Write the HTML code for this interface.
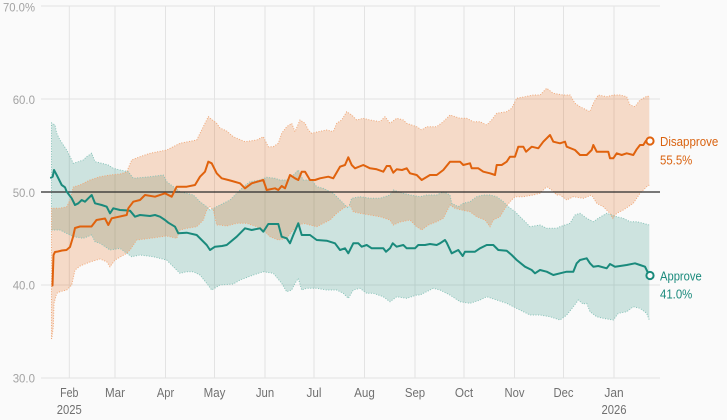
<!DOCTYPE html>
<html>
<head>
<meta charset="utf-8">
<style>
html,body{margin:0;padding:0;background:#fafafa;}
svg{display:block;}
text{font-family:"Liberation Sans",Arial,sans-serif;}
</style>
</head>
<body>
<svg width="727" height="420" viewBox="0 0 727 420" xmlns="http://www.w3.org/2000/svg">
<rect x="0" y="0" width="727" height="420" fill="#fafafa"/>

<!-- gridlines -->
<g stroke="#e3e3e3" stroke-width="1" fill="none">
  <line x1="41" y1="6" x2="660" y2="6"/>
  <line x1="41" y1="99" x2="660" y2="99"/>
  <line x1="41" y1="285" x2="660" y2="285"/>
  <line x1="41" y1="378" x2="660" y2="378"/>
  <line x1="69.3" y1="6" x2="69.3" y2="378"/>
  <line x1="115" y1="6" x2="115" y2="378"/>
  <line x1="165.5" y1="6" x2="165.5" y2="378"/>
  <line x1="214.5" y1="6" x2="214.5" y2="378"/>
  <line x1="265" y1="6" x2="265" y2="378"/>
  <line x1="314" y1="6" x2="314" y2="378"/>
  <line x1="364.5" y1="6" x2="364.5" y2="378"/>
  <line x1="415" y1="6" x2="415" y2="378"/>
  <line x1="464" y1="6" x2="464" y2="378"/>
  <line x1="514.5" y1="6" x2="514.5" y2="378"/>
  <line x1="563.5" y1="6" x2="563.5" y2="378"/>
  <line x1="614" y1="6" x2="614" y2="378"/>
</g>

<!-- Approve band -->
<polygon fill="rgba(25,135,115,0.2)" stroke="none" points="
51.5,123 55,125 56.7,133.3 60,140 66.7,150 71.7,160 73.3,163.3 78.3,161.7 83.3,160 86.7,156.7 91.7,153.3 95,161.7 101.7,163.3 108.3,165 113.3,168.3 120,170 128.3,171.7 133.3,178.3 150,176.7 163.3,175 166.7,181.7 173.3,186.7 180,191.7 186.7,193.3 193.3,195 200,201.7 206.7,206.7 210,210 216.7,206.7 220,205 230,200 236.7,193.3 243.3,186.7 250,181.7 260,180 266.7,177.3 275,178.3 280,180 286.7,180 293.3,175 298.3,170 303.3,180 311.7,180 316.7,186.7 323.3,188.3 333.3,193.3 340,200 345,205 348.3,208.3 351.7,198.3 360,196.7 370,198.3 380,198.3 390,195 393.3,190 403.3,193.3 410,195 420,196.7 426.7,195 436.7,195 443.3,191.7 450,195 451.7,203.3 458.3,206.7 463.3,203.3 470,201.7 476.7,196.7 483.3,195 490,195 496.7,196.7 503.3,201.7 508.3,206.7 515,211.7 521.7,218.3 530,226.7 540,225 546.7,228.3 556.7,228.3 560,226.7 570,223.3 575,215 580,213.3 586.7,218.3 593.3,221.7 598.3,218.3 606.7,213.3 611.7,215 616.7,216.7 623.3,218.3 630,221.7 636.7,221.7 643.3,223.3 649.3,225
649.3,320 646.7,313.3 640,308.3 633.3,306.7 626.7,311.7 618.3,313.3 613.3,320 603.3,318.3 596.7,316.7 590,311.7 586.7,303.3 583,304 578.3,300 573.3,306.7 566.7,315 560,320 550,316.7 540,315 530,315 520,310 513.3,306.7 506.7,303.3 496.7,300 486.7,296.7 480,300 470,303.3 460,301.7 450,295 440,290 433.3,288.3 420,295 416.7,295 406.7,298.3 396.7,296.7 390,301.7 383.3,296.7 373.3,293.3 366.7,293.3 360,288.3 353.3,290 348.3,298.3 343.3,293.3 336.7,290 326.7,290 316.7,288.3 306.7,288.3 301.7,290 298.3,278.3 295,283.3 291.7,290 286.7,291.7 281.7,283.3 273.3,273.3 263.3,271.7 253.3,275 240,280 233.3,284 220,285 211.7,290 206.7,283.3 200,275 193.3,271.7 186.7,271.7 180,273.3 173.3,266.7 166.7,260 153.3,256.7 140,255 131.7,256.7 126.7,253.3 120,248.3 110,250 100,243.3 95,241.7 91.7,235 83.3,238.3 73.3,236.7 60,230 51.5,230"/>

<!-- Disapprove band -->
<polygon fill="rgba(225,90,0,0.2)" stroke="none" points="
51.5,208.3 60,208.3 66.7,206.7 70,200 73.3,187 80,185 90,180 100,176.7 110,175 120,174 126.7,172 131.7,160 140,156.7 150,153.3 166.7,150 180,143.3 196.7,140 203.3,126.7 208.3,116.7 216.7,123.3 220,128 226.7,131 233.3,136.7 245,141.7 256.7,140 263.3,136.7 268.3,146.7 273.3,146.7 278.3,143.3 281.7,133.3 286.7,126.7 291.7,123.3 295,131.7 300,120 305,123.3 308.3,130 311.7,133.3 318.3,131.7 326.7,130 333.3,131.7 336.7,123.3 341.7,120 346.7,111.7 351.7,115 356.7,120 363.3,118.3 370,120 380,121.7 385,116.7 390,123.3 396.7,118.3 403.3,120 406.7,123.3 416.7,126.7 421.7,130 426.7,126.7 436.7,126.7 443.3,121.7 450,115 460,118.3 466.7,118.3 473.3,121.7 480,121.7 486.7,125 491.7,120 496.7,113.3 506.7,111.7 511.7,108.3 516.7,98.3 525,96.7 533.3,95 540,95 546.7,88.3 553.3,93.3 563.3,95 570,95 575,103.3 580,106.7 590,111.7 593.3,103.3 598.3,95 606.7,96.7 613.3,95 620,95 626.7,96.7 630,105 635,106.7 640,100 647.3,96 649.3,96.7
649.3,185 646.7,186.7 640,193.3 633.3,203.3 623.3,210 616.7,213.3 612.7,218.3 610,213.3 603.3,206.7 596.7,203.3 591.7,195 583.3,198.3 573.3,196.7 566.7,200 560,195 556.7,195 551.7,190 546.7,186.7 540,193.3 533.3,195 523.3,196.7 515,196.7 510,201.7 505,208.3 500,216.7 493.3,220 490,226.7 485,220 476.7,216.7 470,211.7 461.7,210 455,208.3 450,205 443.3,218.3 436.7,221.7 428.3,225 421.7,230 416.7,226.7 410,220 400,222 393.3,225 390,220 380,216.7 370,215 360,213.3 353.3,211.7 350,205 343.3,208.3 336.7,213.3 330,220 323.3,223.3 316.7,226.7 310,225 303.3,223.3 296.7,226.7 291.7,231.7 286.7,238.3 278.3,240 270,236.7 263.3,230 256.7,226.7 246.7,223.3 236.7,223.3 226.7,226 220,225 216.7,225 213.3,210 210,206.7 206.7,210 203.3,220 196.7,226.7 186.7,228.3 180,230 176.7,238.3 166.7,236 150,238.3 136.7,240 130,250 126.7,253.3 115,260 110,266.7 106.7,261.7 100,259 90,262 80,266 75,270 71.7,285 66.7,290 60,291.7 56.7,293.3 54,303.3 53.3,326.7 51.7,339 51.5,339"/>

<!-- dotted band edges -->
<g fill="none" stroke-width="1" stroke-dasharray="1 1.6">
<polyline stroke="#86c2b8" points="51.5,230 51.5,123 55,125 56.7,133.3 60,140 66.7,150 71.7,160 73.3,163.3 78.3,161.7 83.3,160 86.7,156.7 91.7,153.3 95,161.7 101.7,163.3 108.3,165 113.3,168.3 120,170 128.3,171.7 133.3,178.3 150,176.7 163.3,175 166.7,181.7 173.3,186.7 180,191.7 186.7,193.3 193.3,195 200,201.7 206.7,206.7 210,210 216.7,206.7 220,205 230,200 236.7,193.3 243.3,186.7 250,181.7 260,180 266.7,177.3 275,178.3 280,180 286.7,180 293.3,175 298.3,170 303.3,180 311.7,180 316.7,186.7 323.3,188.3 333.3,193.3 340,200 345,205 348.3,208.3 351.7,198.3 360,196.7 370,198.3 380,198.3 390,195 393.3,190 403.3,193.3 410,195 420,196.7 426.7,195 436.7,195 443.3,191.7 450,195 451.7,203.3 458.3,206.7 463.3,203.3 470,201.7 476.7,196.7 483.3,195 490,195 496.7,196.7 503.3,201.7 508.3,206.7 515,211.7 521.7,218.3 530,226.7 540,225 546.7,228.3 556.7,228.3 560,226.7 570,223.3 575,215 580,213.3 586.7,218.3 593.3,221.7 598.3,218.3 606.7,213.3 611.7,215 616.7,216.7 623.3,218.3 630,221.7 636.7,221.7 643.3,223.3 649.3,225"/>
<polyline stroke="#86c2b8" points="51.5,230 60,230 73.3,236.7 83.3,238.3 91.7,235 95,241.7 100,243.3 110,250 120,248.3 126.7,253.3 131.7,256.7 140,255 153.3,256.7 166.7,260 173.3,266.7 180,273.3 186.7,271.7 193.3,271.7 200,275 206.7,283.3 211.7,290 220,285 233.3,284 240,280 253.3,275 263.3,271.7 273.3,273.3 281.7,283.3 286.7,291.7 291.7,290 295,283.3 298.3,278.3 301.7,290 306.7,288.3 316.7,288.3 326.7,290 336.7,290 343.3,293.3 348.3,298.3 353.3,290 360,288.3 366.7,293.3 373.3,293.3 383.3,296.7 390,301.7 396.7,296.7 406.7,298.3 416.7,295 420,295 433.3,288.3 440,290 450,295 460,301.7 470,303.3 480,300 486.7,296.7 496.7,300 506.7,303.3 513.3,306.7 520,310 530,315 540,315 550,316.7 560,320 566.7,315 573.3,306.7 578.3,300 583,304 586.7,303.3 590,311.7 596.7,316.7 603.3,318.3 613.3,320 618.3,313.3 626.7,311.7 633.3,306.7 640,308.3 646.7,313.3 649.3,320"/>
<polyline stroke="#f0a878" points="51.5,339 51.5,208.3 60,208.3 66.7,206.7 70,200 73.3,187 80,185 90,180 100,176.7 110,175 120,174 126.7,172 131.7,160 140,156.7 150,153.3 166.7,150 180,143.3 196.7,140 203.3,126.7 208.3,116.7 216.7,123.3 220,128 226.7,131 233.3,136.7 245,141.7 256.7,140 263.3,136.7 268.3,146.7 273.3,146.7 278.3,143.3 281.7,133.3 286.7,126.7 291.7,123.3 295,131.7 300,120 305,123.3 308.3,130 311.7,133.3 318.3,131.7 326.7,130 333.3,131.7 336.7,123.3 341.7,120 346.7,111.7 351.7,115 356.7,120 363.3,118.3 370,120 380,121.7 385,116.7 390,123.3 396.7,118.3 403.3,120 406.7,123.3 416.7,126.7 421.7,130 426.7,126.7 436.7,126.7 443.3,121.7 450,115 460,118.3 466.7,118.3 473.3,121.7 480,121.7 486.7,125 491.7,120 496.7,113.3 506.7,111.7 511.7,108.3 516.7,98.3 525,96.7 533.3,95 540,95 546.7,88.3 553.3,93.3 563.3,95 570,95 575,103.3 580,106.7 590,111.7 593.3,103.3 598.3,95 606.7,96.7 613.3,95 620,95 626.7,96.7 630,105 635,106.7 640,100 647.3,96 649.3,96.7"/>
<polyline stroke="#f0a878" points="649.3,185 646.7,186.7 640,193.3 633.3,203.3 623.3,210 616.7,213.3 612.7,218.3 610,213.3 603.3,206.7 596.7,203.3 591.7,195 583.3,198.3 573.3,196.7 566.7,200 560,195 556.7,195 551.7,190 546.7,186.7 540,193.3 533.3,195 523.3,196.7 515,196.7 510,201.7 505,208.3 500,216.7 493.3,220 490,226.7 485,220 476.7,216.7 470,211.7 461.7,210 455,208.3 450,205 443.3,218.3 436.7,221.7 428.3,225 421.7,230 416.7,226.7 410,220 400,222 393.3,225 390,220 380,216.7 370,215 360,213.3 353.3,211.7 350,205 343.3,208.3 336.7,213.3 330,220 323.3,223.3 316.7,226.7 310,225 303.3,223.3 296.7,226.7 291.7,231.7 286.7,238.3 278.3,240 270,236.7 263.3,230 256.7,226.7 246.7,223.3 236.7,223.3 226.7,226 220,225 216.7,225 213.3,210 210,206.7 206.7,210 203.3,220 196.7,226.7 186.7,228.3 180,230 176.7,238.3 166.7,236 150,238.3 136.7,240 130,250 126.7,253.3 115,260 110,266.7 106.7,261.7 100,259 90,262 80,266 75,270 71.7,285 66.7,290 60,291.7 56.7,293.3 54,303.3 53.3,326.7 51.7,339"/>
</g>

<!-- 50% reference line -->
<line x1="41" y1="192" x2="660" y2="192" stroke="#2a2a2a" stroke-width="1.3"/>

<!-- Approve line -->
<polyline fill="none" stroke="#1a8a7c" stroke-width="2" stroke-linejoin="round" stroke-linecap="round" points="51,177.7 52.7,176.7 54,170 56.7,175 61.7,185 65,187.3 66.7,191.7 71.7,198.3 75,205 78.3,203.3 81.7,200 85,201.7 88.3,198.3 91.7,195 95,203.3 101.7,205 106.7,206.7 110,213.3 113.3,208.3 120,210 130,210.7 135,216.7 140,215 150,216 155,215 160,216.7 165,220 168.3,222.7 175,226.7 178.3,233.3 186.7,232.7 196.7,235 201.7,240 206.7,245 210,250 215,246.7 222,246 226.7,245 236.7,236.7 245,228.3 251.7,230 260,228.3 263.3,231.7 268.3,224 278.3,224 281.7,236.7 286.7,238.3 290,243.3 293.3,235 298.3,223.3 301.7,235 310,235 316.7,240 326.7,240.7 335,243.3 340,250 345,248.3 348.3,253.3 353.3,243.3 358.3,243.3 361.7,246.7 366.7,245 371.7,248.3 383.3,248.3 386,251.7 390,248.3 392.7,243.3 396.7,246.7 403.3,245 406.7,248.3 415,248.3 418.3,245 425,245 430,244 436.7,245 440,243.3 445,240 446.7,242.7 451.7,253.3 458.3,250 462.7,256 465,251.7 475,251.7 480,248.3 486.7,245 493.3,245 498.3,250 506.7,250.7 511.7,255 516.7,260 525,266.7 531.7,270 535,273.3 540,270 546.7,271.7 553.3,275 560,273.3 566.7,271.7 573.3,271.7 576.7,263.3 580,260 586.7,258.3 590,263.3 593.3,266.7 598.3,266 606.7,268.3 610,264 615,266.7 626.7,265 635,263.3 640,265 645,266.7 649.3,275.5"/>

<!-- Disapprove line -->
<polyline fill="none" stroke="#e0620d" stroke-width="2" stroke-linejoin="round" stroke-linecap="round" points="52.5,285.5 53.5,255 55,252 58,251.5 62,250.5 66.5,250 70,247 73,237 75,228 80,226.5 91.5,226.5 96.5,220 105,218.5 108.3,225 111.7,218.3 126.7,215 128.3,208.3 133.3,201.7 140,200 145,195 155,196.7 165,193.3 171.7,196.7 176.7,186.7 186.7,186.7 195,185 200,176.7 205,171.7 208.3,161.7 211.7,163.3 216.7,173.3 221.7,178.3 228.3,180 232,181 240,183.3 245,188.3 251.7,183.3 263.3,180 266.7,190 275,188.3 278.3,190 281.7,186 285,188.3 290,175 295,178.3 298.3,180 301.7,171.7 305,171.7 310,180 315,180 320,178.3 328.3,176.7 333.3,178.3 340,166.7 345,165 348.3,157.3 351.7,165 355,168.3 363.3,165 370,168.3 376.7,169.3 383.3,171.7 386.7,166 390,166 393.3,172.7 396.7,169.3 402,170 406.7,168.3 410,173.3 416.7,175 421.7,180 430,175 436.7,175 443.3,170 450,161.7 460,161.7 463.3,165 470,163.3 471.7,168.3 478.3,168.3 483.3,171.7 490,173.3 495,175 496.7,165 501.7,165 506.7,161.7 510,156.7 515,156.7 518.3,146.7 523.3,146.7 526,151.7 531.7,146.7 538.3,148.3 543.3,141.7 550,135 553.3,141.7 560,143.3 565,141.7 566.7,146.7 575,150 580,155 586.7,155 591.7,150 593.3,145 596.7,151.7 608.3,151.7 610,158.3 613.3,158.3 616.7,153.3 621.7,155 626.7,153.3 633.3,155 636.7,149.3 640,145 643.3,145 646,140.7 649.3,141"/>

<!-- end markers -->
<circle cx="650" cy="141" r="3.6" fill="#fafafa" stroke="#e0620d" stroke-width="2"/>
<circle cx="650" cy="275.5" r="3.6" fill="#fafafa" stroke="#1a8a7c" stroke-width="2"/>

<!-- y axis labels -->
<g fill="#a3a3a3" font-size="12" text-anchor="end">
  <text x="35" y="11.5" textLength="32" lengthAdjust="spacingAndGlyphs">70.0%</text>
  <text x="35" y="104" textLength="22.3" lengthAdjust="spacingAndGlyphs">60.0</text>
  <text x="35" y="197" textLength="22.3" lengthAdjust="spacingAndGlyphs">50.0</text>
  <text x="35" y="289.5" textLength="22.3" lengthAdjust="spacingAndGlyphs">40.0</text>
  <text x="35" y="382.5" textLength="22.3" lengthAdjust="spacingAndGlyphs">30.0</text>
</g>

<!-- x axis labels -->
<g fill="#707070" font-size="13" text-anchor="middle">
  <text x="69.3" y="397" textLength="18.3" lengthAdjust="spacingAndGlyphs">Feb</text>
  <text x="69.3" y="414" textLength="25" lengthAdjust="spacingAndGlyphs">2025</text>
  <text x="115" y="397" textLength="20" lengthAdjust="spacingAndGlyphs">Mar</text>
  <text x="165.5" y="397" textLength="17.3" lengthAdjust="spacingAndGlyphs">Apr</text>
  <text x="214.5" y="397" textLength="21.7" lengthAdjust="spacingAndGlyphs">May</text>
  <text x="265" y="397" textLength="18.3" lengthAdjust="spacingAndGlyphs">Jun</text>
  <text x="314" y="397" textLength="15" lengthAdjust="spacingAndGlyphs">Jul</text>
  <text x="364.5" y="397" textLength="20.7" lengthAdjust="spacingAndGlyphs">Aug</text>
  <text x="415" y="397" textLength="20.3" lengthAdjust="spacingAndGlyphs">Sep</text>
  <text x="464" y="397" textLength="18.3" lengthAdjust="spacingAndGlyphs">Oct</text>
  <text x="514.5" y="397" textLength="20" lengthAdjust="spacingAndGlyphs">Nov</text>
  <text x="563.5" y="397" textLength="20" lengthAdjust="spacingAndGlyphs">Dec</text>
  <text x="614" y="397" textLength="19.3" lengthAdjust="spacingAndGlyphs">Jan</text>
  <text x="614" y="414" textLength="25" lengthAdjust="spacingAndGlyphs">2026</text>
</g>

<!-- series labels -->
<g font-size="13">
  <text x="660" y="146" fill="#d9620f" textLength="58.3" lengthAdjust="spacingAndGlyphs">Disapprove</text>
  <text x="660" y="164.5" fill="#d9620f" textLength="32.3" lengthAdjust="spacingAndGlyphs">55.5%</text>
  <text x="660" y="280.5" fill="#1a8a7c" textLength="41.7" lengthAdjust="spacingAndGlyphs">Approve</text>
  <text x="660" y="298.5" fill="#1a8a7c" textLength="32.3" lengthAdjust="spacingAndGlyphs">41.0%</text>
</g>
</svg>
</body>
</html>
